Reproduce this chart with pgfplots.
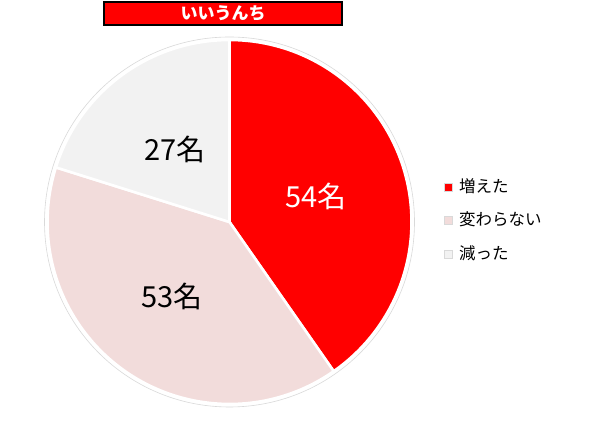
\documentclass[border=0pt]{standalone}
\usepackage{pgfplots}
\pgfplotsset{compat=1.18}
\usepackage{fontspec}
\setmainfont{Noto Sans CJK JP}
\definecolor{zoua}{HTML}{FF0000}
\definecolor{kawa}{HTML}{F2DCDB}
\definecolor{hera}{HTML}{F2F2F2}
\definecolor{rim}{HTML}{D9D9D9}

% counts per answer
\def\vA{54}\def\vB{53}\def\vC{27}
\pgfmathsetmacro\tot{\vA+\vB+\vC}
\pgfmathsetmacro\aS{90}
\pgfmathsetmacro\aA{\aS-\vA/\tot*360}
\pgfmathsetmacro\aB{\aA-\vB/\tot*360}
\pgfmathsetmacro\aC{\aB-\vC/\tot*360}

\newcommand\legentry[3]{%
  \filldraw[fill=#2, draw=rim, line width=0.4pt] (axis cs:444,#1-4) rectangle (axis cs:452,#1+4);
  \node[anchor=west, font=\fontsize{16.5}{18}\selectfont, inner sep=0pt] at (axis cs:459,#1+1) {#3};
}

\begin{document}
\begin{tikzpicture}
\begin{axis}[
  width=592pt, height=429pt, scale only axis,
  xmin=0, xmax=592, ymin=0, ymax=429,
  hide axis, clip=false,
]
\fill[white] (axis cs:0,0) rectangle (axis cs:592,429);
% outer rim
\draw[rim, line width=0.6pt] (axis cs:229.5,207) circle[radius=185];
% sectors
\filldraw[fill=zoua, draw=white, line width=2.6pt, line join=round]
  (axis cs:229.5,207) -- ++(\aS:182) arc[start angle=\aS, end angle=\aA, radius=182] -- cycle;
\filldraw[fill=kawa, draw=white, line width=2.6pt, line join=round]
  (axis cs:229.5,207) -- ++(\aA:182) arc[start angle=\aA, end angle=\aB, radius=182] -- cycle;
\filldraw[fill=hera, draw=white, line width=2.6pt, line join=round]
  (axis cs:229.5,207) -- ++(\aB:182) arc[start angle=\aB, end angle=\aC, radius=182] -- cycle;
% value labels
\node[white, font=\fontsize{29}{31}\selectfont] at (axis cs:316,233) {\vA 名};
\node[black, font=\fontsize{29}{31}\selectfont] at (axis cs:172,133) {\vB 名};
\node[black, font=\fontsize{29}{31}\selectfont] at (axis cs:175,280) {\vC 名};
% title
\filldraw[fill=zoua, draw=black, line width=1.5pt] (axis cs:104,404) rectangle (axis cs:342,427);
\node[white, font=\fontsize{17}{19}\selectfont\bfseries] at (axis cs:223,415.5) {いいうんち};
% legend
\legentry{242}{zoua}{増えた}
\legentry{209}{kawa}{変わらない}
\legentry{175}{hera}{減った}
\end{axis}
\end{tikzpicture}
\end{document}
